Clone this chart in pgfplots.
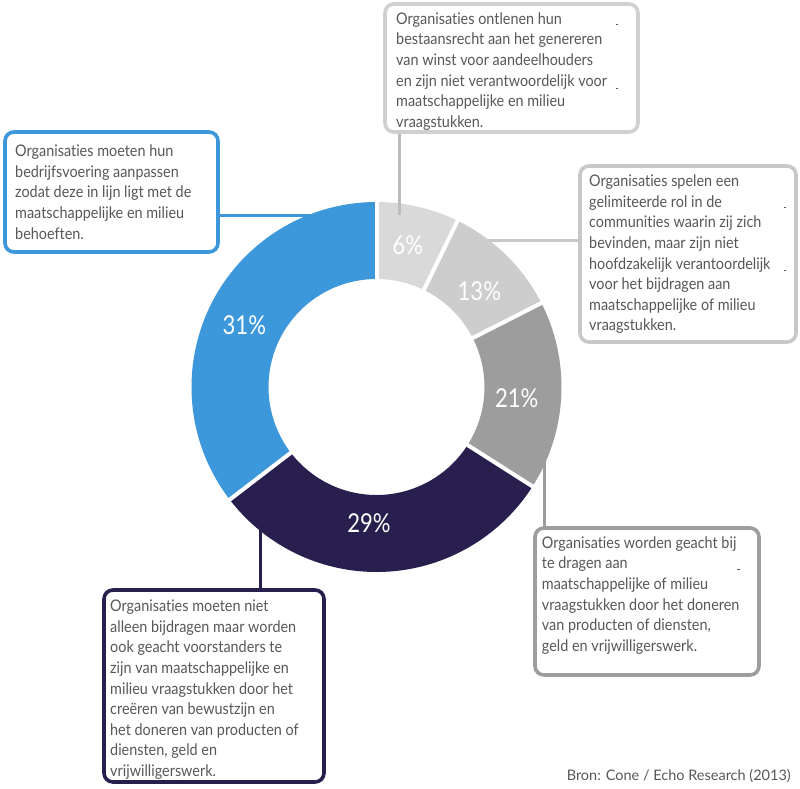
\documentclass[border=0pt]{standalone}
\usepackage{pgfplots}
\pgfplotsset{compat=1.18}
\usepackage{fontspec}
\setmainfont{Lato}[FakeStretch=0.9, Ligatures=NoCommon]
\newfontfamily\pctfont{Lato}[FakeStretch=0.85]
\newfontfamily\srcfont{Lato}[Ligatures=NoCommon]
\definecolor{txt}{HTML}{575757}
\definecolor{segA}{HTML}{D9D9D9}
\definecolor{segB}{HTML}{CDCDCD}
\definecolor{segC}{HTML}{9D9D9D}
\definecolor{segD}{HTML}{291F4F}
\definecolor{segE}{HTML}{3C97DB}
\definecolor{bxA}{HTML}{D0D0D0}
\definecolor{bxB}{HTML}{C8C8C8}
% donut: centre (376.5,387) px, outer radius 185, inner radius 108
% values (%) and boundaries as drawn (degrees clockwise from top):
% 6% : 0 - 26 | 13% : 26 - 63 | 21% : 63 - 122.5 | 29% : 122.5 - 232.5 | 31% : 232.5 - 360
\newcommand{\seg}[3]{%
  \fill[#3] ([shift={(#1:185pt)}]axis cs:376.5,387) arc[start angle=#1, end angle=#2, radius=185pt]
    -- ([shift={(#2:108pt)}]axis cs:376.5,387) arc[start angle=#2, end angle=#1, radius=108pt] -- cycle;}
\newcommand{\gap}[1]{%
  \draw[white, line width=4pt] ([shift={(#1:100pt)}]axis cs:376.5,387) -- ([shift={(#1:195pt)}]axis cs:376.5,387);}
\newcommand{\bx}[5]{%
  \draw[#5, line width=3.6pt, rounded corners=9pt] (axis cs:#1,#2) rectangle (axis cs:#3,#4);}
\newcommand{\lines}[1]{\begin{tabular}[t]{@{}l@{}}#1\end{tabular}}
\begin{document}
\begin{tikzpicture}
\begin{axis}[x=1pt, y=1pt, xmin=0, xmax=800, ymin=0, ymax=788, y dir=reverse,
  hide axis, clip=false, scale only axis]
\path (axis cs:0,0) rectangle (axis cs:800,788);
% connectors (behind)
\draw[segE, line width=3pt] (axis cs:218,215) -- (axis cs:330,215);
\draw[bxB, line width=3pt] (axis cs:480,240) -- (axis cs:580,240);
\draw[segD, line width=3pt] (axis cs:260,520) -- (axis cs:260,590);
\draw[segC, line width=3pt] (axis cs:544,455) -- (axis cs:544,528);
% donut
\seg{90}{64}{segA}
\seg{64}{27}{segB}
\seg{27}{-32.5}{segC}
\seg{-32.5}{-142.5}{segD}
\seg{-142.5}{-270}{segE}
\gap{90}\gap{64}\gap{27}\gap{-32.5}\gap{-142.5}
\draw[bxA!90!black, line width=3pt] (axis cs:399,132) -- (axis cs:399,215);
% percentage labels
\begin{scope}[every node/.style={text=white, font=\pctfont\fontsize{26}{26}\selectfont}]
\node at (axis cs:407.7,245) {6\%};
\node at (axis cs:479.3,291) {13\%};
\node at (axis cs:516.7,398) {21\%};
\node at (axis cs:369,523) {29\%};
\node at (axis cs:244.3,325) {31\%};
\end{scope}
% boxes
\bx{385}{4}{638}{132}{bxA}
\bx{580}{166}{796}{342}{bxB}
\bx{5}{132}{218}{252}{segE}
\bx{104}{590}{324}{782}{segD}
\bx{535}{528}{759}{675}{segC}
\begin{scope}[every node/.style={text=txt, anchor=base west, inner sep=0pt,
   font=\fontsize{16}{20.6}\selectfont}]
\node at (axis cs:396,24.3) {\lines{Organisaties ontlenen hun\\bestaansrecht aan het genereren\\van winst voor aandeelhouders\\en zijn niet verantwoordelijk voor\\maatschappelijke en milieu\\vraagstukken.}};
\node at (axis cs:589,186.7) {\lines{Organisaties spelen een\\gelimiteerde rol in de\\communities waarin zij zich\\bevinden, maar zijn niet\\hoofdzakelijk verantoordelijk\\voor het bijdragen aan\\maatschappelijke of milieu\\vraagstukken.}};
\node at (axis cs:15,156.7) {\lines{Organisaties moeten hun\\bedrijfsvoering aanpassen\\zodat deze in lijn ligt met de\\maatschappelijke en milieu\\behoeften.}};
\node at (axis cs:110,611.7) {\lines{Organisaties moeten niet\\alleen bijdragen maar worden\\ook geacht voorstanders te\\zijn van maatschappelijke en\\milieu vraagstukken door het\\creëren van bewustzijn en\\het doneren van producten of\\diensten, geld en\\vrijwilligerswerk.}};
\node at (axis cs:541.7,548.3) {\lines{Organisaties worden geacht bij\\te dragen aan\\maatschappelijke of milieu\\vraagstukken door het doneren\\van producten of diensten,\\geld en vrijwilligerswerk.}};
\end{scope}
\node[text=txt, anchor=base east, inner sep=0pt, font=\srcfont\fontsize{14.5}{14.5}\selectfont] at (axis cs:791,780.5) {Bron: Cone / Echo Research (2013)};
% stray hyphen marks in the boxes
\begin{scope}[txt, line width=0.8pt]
\draw (axis cs:615.5,24.5) -- (axis cs:618,24.5);
\draw (axis cs:615.5,88) -- (axis cs:618,88);
\draw (axis cs:783.5,207.5) -- (axis cs:786,207.5);
\draw (axis cs:783.5,270) -- (axis cs:786,270);
\draw (axis cs:737,569) -- (axis cs:739.5,569);
\end{scope}
\end{axis}
\end{tikzpicture}
\end{document}
